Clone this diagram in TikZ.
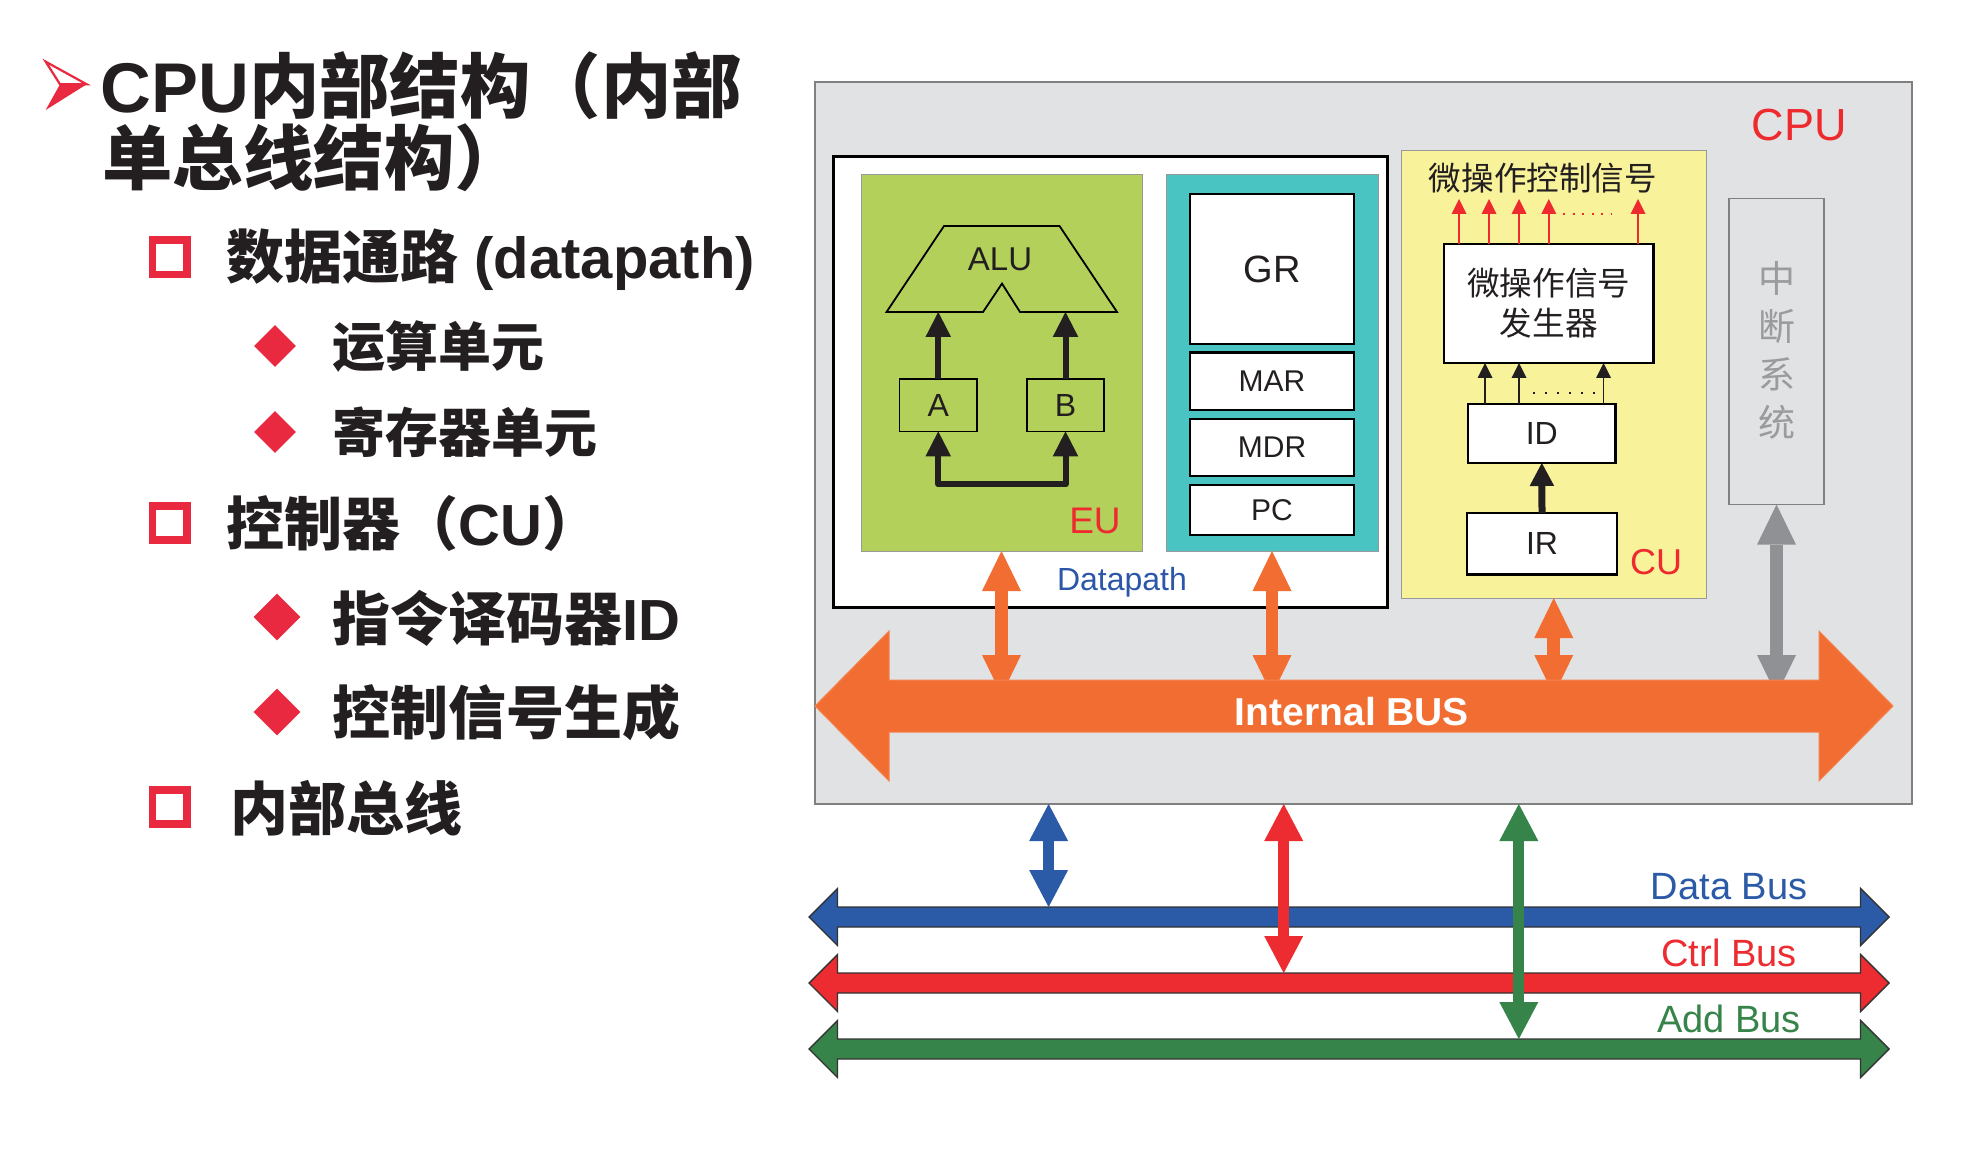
\documentclass[tikz,border=0pt]{standalone}
\usepackage{fontspec}
\setmainfont{Liberation Sans}
\newfontfamily\cjk{Noto Sans CJK SC}
\usetikzlibrary{arrows.meta,fit,calc,shapes.geometric}
\newcommand\fs[1]{\fontsize{#1}{#1}\selectfont}
\definecolor{cpugrey}{HTML}{E1E2E4}
\definecolor{eugreen}{HTML}{B3D05B}
\definecolor{regcyan}{HTML}{4AC3C3}
\definecolor{cuyellow}{HTML}{F8F29B}
\definecolor{orangeC}{HTML}{F26D31}
\definecolor{labred}{HTML}{EE2A2E}
\definecolor{bulletred}{HTML}{E8293F}
\definecolor{busblue}{HTML}{2B5AA7}
\definecolor{busred}{HTML}{EC2C30}
\definecolor{busgreen}{HTML}{37844A}
\definecolor{dpblue}{HTML}{2C56A8}
\definecolor{greyarrow}{HTML}{8F9194}
\definecolor{greytext}{HTML}{9A9B9D}
\definecolor{darkline}{HTML}{333333}
\definecolor{ink}{HTML}{231F20}
\newcommand\hbusarrow[9]{%
  \filldraw[fill=#1,draw=#2,line width=#9,line join=miter]
  (#3,#5) -- ({#3+#8},{#5-#7}) -- ({#3+#8},{#5-#6}) -- ({#4-#8},{#5-#6})
  -- ({#4-#8},{#5-#7}) -- (#4,#5) -- ({#4-#8},{#5+#7}) -- ({#4-#8},{#5+#6})
  -- ({#3+#8},{#5+#6}) -- ({#3+#8},{#5+#7}) -- cycle;}
\tikzset{
  box/.style={inner sep=0pt,outer sep=0pt},
  wbox/.style={box,fill=white,draw=black,line width=1.25pt},
  sqbullet/.style={draw=bulletred,line width=3.85pt,minimum size=17.15pt,inner sep=0pt},
  dbullet/.style={diamond,fill=bulletred,inner sep=0pt,minimum width=#1,minimum height=#1},
  txt/.style={anchor=west,inner sep=0pt,text=ink},
  lbl/.style={inner sep=0pt,text=ink},
  vblk/.style={line width=6.3pt,>={Triangle[width=19.5pt,length=20pt,line width=0pt]},<->},
  vblktwo/.style={line width=5.5pt,>={Triangle[width=19.5pt,length=18.5pt,line width=0pt]},<->},
  thk/.style={line width=3pt,line join=round,>={Triangle[width=12.8pt,length=12.5pt,line width=0pt]}},
  thin/.style={line width=1pt,>={Triangle[width=7.5pt,length=7.5pt,line width=0pt]},->}
}
\begin{document}
\begin{tikzpicture}[x=0.5pt,y=-0.5pt]
\useasboundingbox[fill=white] (0,0) rectangle (1974,1160);

% ---------------- left text ----------------
\fill[bulletred] (45.7,110) -- (86.7,84.3) -- (60,84.3) -- cycle;
\draw[bulletred,line width=1.1pt,line join=miter] (45.7,61.7) -- (86.7,84.3) -- (60,84.3) -- cycle;
\node[txt] (t1) at (100,86) {\fs{35.2}\bfseries CPU\cjk 内部结构（内部};
\node[txt] (t2) at (102,158) {\fs{35.2}\bfseries\cjk 单总线结构）};

\node[sqbullet] (s1) at (169.5,257.5) {};
\node[txt] (i1) at (226,260) {\fs{29}\bfseries{\cjk 数据通路} (datapath)};
\node[dbullet=21pt] (d1) at (275,346) {};
\node[txt] (i2) at (331.6,346) {\fs{26.5}\bfseries\cjk 运算单元};
\node[dbullet=21pt] (d2) at (275,432) {};
\node[txt] (i3) at (331.6,432) {\fs{26.5}\bfseries\cjk 寄存器单元};
\node[sqbullet] (s2) at (169.5,523) {};
\node[txt] (i4) at (226,523) {\fs{29}\bfseries{\cjk 控制器（}CU{\cjk ）}};
\node[dbullet=23.5pt] (d3) at (277,617) {};
\node[txt] (i5) at (331.6,618) {\fs{29}\bfseries{\cjk 指令译码器}ID};
\node[dbullet=23.5pt] (d4) at (277,712) {};
\node[txt] (i6) at (331.6,712) {\fs{29}\bfseries\cjk 控制信号生成};
\node[sqbullet] (s3) at (169.5,807) {};
\node[txt] (i7) at (230,808) {\fs{29}\bfseries\cjk 内部总线};

% ---------------- CPU box ----------------
\node[fit={(815,82) (1912,804)},box,fill=cpugrey,draw=gray,line width=1pt] (cpu) {};
\node[text=labred] (cpulab) at (1799,125) {\fs{22.5}CPU};

% datapath
\node[fit={(833,157) (1387,607)},box,fill=white,draw=black,line width=1.5pt] (dp) {};
\node[fit={(861,175) (1142,551)},box,fill=eugreen,draw=gray!80,line width=0.5pt] (eu) {};
\node[fit={(1166,175) (1378,551)},box,fill=regcyan,draw=gray!80,line width=0.5pt] (rf) {};
\node[fit={(1190,194) (1354,344)},wbox] (gr) {};
\node[fit={(1190,352.5) (1354,410)},wbox] (mar) {};
\node[fit={(1190,419) (1354,476)},wbox] (mdr) {};
\node[fit={(1190,485) (1354,535)},wbox] (pc) {};
\node[lbl] at (gr.center) {\fs{19}GR};
\node[lbl] at (mar.center) {\fs{15}MAR};
\node[lbl] at (mdr.center) {\fs{15}MDR};
\node[lbl] at (pc.center) {\fs{15}PC};

\draw[line width=0.9pt,line join=miter] (944,226) -- (1059.5,226) -- (1117,312) -- (1020,312)
  -- (1002,283.6) -- (983,312) -- (886.5,312) -- cycle;
\node[lbl] (alu) at (1000,259) {\fs{16.5}ALU};
\coordinate (alubase) at (1000,312);
\node[fit={(899.5,379) (977,431.4)},box,draw=black,line width=0.9pt] (A) {};
\node[fit={(1027,379) (1104,431.4)},box,draw=black,line width=0.9pt] (B) {};
\node[lbl] at (A.center) {\fs{16}A};
\node[lbl] at (B.center) {\fs{16}B};
\draw[thk,->,ink] (A.north) -- (A.north |- alubase);
\draw[thk,->,ink] (B.north) -- (B.north |- alubase);
\draw[thk,<->,ink] (A.south) -- ++(0,53) -| (B.south);
\node[text=labred] (eulab) at (1095,521) {\fs{18.5}EU};
\node[text=dpblue] (dplab) at (1122,582) {\fs{16}Datapath};

% CU
\node[fit={(1401,151) (1706.5,598)},box,fill=cuyellow,draw=gray!80,line width=0.5pt] (cu) {};
\node[lbl] (mcs) at (1543,178) {\fs{16.3}\cjk 微操作控制信号};
\node[fit={(1444,244) (1653.5,363)},wbox] (gen) {};
\node[lbl,align=center,font=\cjk\fontsize{16.3}{20}\selectfont] (gentxt) at (gen.center) {微操作信号\\发生器};
\node[fit={(1468,404) (1615.6,463)},wbox] (ID) {};
\node[fit={(1467,513) (1617,574.6)},wbox] (IR) {};
\node[lbl] at (ID.center) {\fs{16}ID};
\node[lbl] at (IR.center) {\fs{16}IR};
\node[text=labred] (culab) at (1656,562) {\fs{18}CU};
\foreach \dx in {-89.75,-59.75,-29.75,0,89.25}
  \draw[thin,labred] (gen.north) ++(\dx,0) -- ++(0,-45);
\draw[labred,line width=1.2pt,dash pattern=on 1pt off 3.75pt] (1563,214) -- (1612,214);
\foreach \dx in {-56.8,-22.8,61.7}
  \draw[thin,ink,line width=0.8pt] (ID.north) ++(\dx,0) -- ++(0,-41);
\draw[ink,line width=1.2pt,dash pattern=on 1pt off 5pt] (1533,393) -- (1596,393);
\draw[ink,line width=3.5pt,>={Triangle[width=12.3pt,length=11.5pt,line width=0pt]},->] (IR.north) -- (ID.south);

% interrupt
\node[fit={(1729,198.6) (1824,504.6)},box,fill=cpugrey,draw=gray,line width=0.8pt] (intr) {};
\node[lbl,text=greytext,align=center,font=\cjk\fontsize{18.5}{24}\selectfont] (intrtxt) at (1776.5,350) {中\\断\\系\\统};

% vertical arrows to internal bus
\coordinate (ibus) at (1354,706);
\draw[vblk,orangeC] (eu.south) -- ($(eu.south |- ibus)+(0,-11)$);
\draw[vblk,orangeC] (rf.south) -- ($(rf.south |- ibus)+(0,-11)$);
\draw[vblk,orangeC] (cu.south) -- ($(cu.south |- ibus)+(0,-11)$);
\draw[vblk,greyarrow] (intr.south) -- ($(intr.south |- ibus)+(0,-11)$);

% internal bus
\hbusarrow{orangeC}{orangeC!85!white}{815}{1893}{706}{26}{75}{74}{0.5pt}
\node[text=white] (ibuslab) at (1352,712) {\fs{19.5}\bfseries Internal BUS};

% system buses
\coordinate (dbus) at (1349,917);
\coordinate (cbus) at (1349,983);
\coordinate (abus) at (1349,1049);
\hbusarrow{busblue}{darkline}{809}{1889}{917}{10}{28.5}{28.5}{0.7pt}
\hbusarrow{busred}{darkline}{809}{1889}{983}{10}{28.5}{28.5}{0.7pt}
\hbusarrow{busgreen}{darkline}{809}{1889}{1049}{10}{28.5}{28.5}{0.7pt}
\node[text=busblue] (dlab) at (1729,887) {\fs{19}Data Bus};
\node[text=busred] (clab) at (1729,953) {\fs{19}Ctrl Bus};
\node[text=busgreen] (alab) at (1729,1019) {\fs{19}Add Bus};

\coordinate (vx1) at (1048.6,0);
\coordinate (vx2) at (1283.7,0);
\coordinate (vx3) at (1518.8,0);
\draw[vblktwo,busblue] (cpu.south -| vx1) -- ($(vx1 |- dbus)+(0,-10)$);
\draw[vblktwo,busred] (cpu.south -| vx2) -- ($(vx2 |- cbus)+(0,-10)$);
\draw[vblktwo,busgreen] (cpu.south -| vx3) -- ($(vx3 |- abus)+(0,-10)$);
\end{tikzpicture}
\end{document}
